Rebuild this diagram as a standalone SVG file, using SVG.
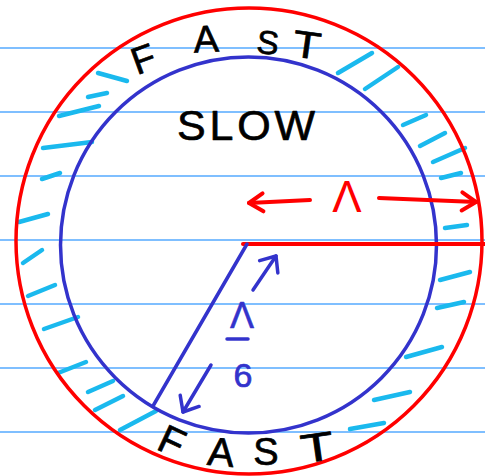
<svg xmlns="http://www.w3.org/2000/svg" width="485" height="476" viewBox="0 0 485 476">
<style>
.rule{stroke:#55aaff;stroke-width:1.5}
.hatch{fill:none;stroke:#1ab9ee;stroke-width:4.5;stroke-linecap:round}
.red{fill:none;stroke:#ff0000;stroke-width:4;stroke-linecap:round}
.blue{fill:none;stroke:#3333cc;stroke-width:3.5;stroke-linecap:round}
.lbl{font-family:"Liberation Sans","DejaVu Sans",sans-serif;text-anchor:middle;stroke-linejoin:round}
.blk{fill:#000;stroke:#000;stroke-width:0.7}
</style>
<defs>
<marker id="hr" markerUnits="userSpaceOnUse" viewBox="0 0 24 24" markerWidth="24" markerHeight="24" refX="20" refY="12" orient="auto" overflow="visible">
<path d="M6,3 L20,12 L6,21" fill="none" stroke="#ff0000" stroke-width="4" stroke-linecap="round" stroke-linejoin="round"/>
</marker>
<marker id="hb" markerUnits="userSpaceOnUse" viewBox="0 0 24 24" markerWidth="24" markerHeight="24" refX="20" refY="12" orient="auto" overflow="visible">
<path d="M7,1 L20,12 L7,23" fill="none" stroke="#3333cc" stroke-width="3.5" stroke-linecap="round" stroke-linejoin="round"/>
</marker>
</defs>
<rect width="485" height="476" fill="#ffffff"/>
<g id="paper-lines">
<line class="rule" x1="0" y1="48" x2="485" y2="48"/>
<line class="rule" x1="0" y1="112" x2="485" y2="112"/>
<line class="rule" x1="0" y1="176" x2="485" y2="176"/>
<line class="rule" x1="0" y1="240" x2="485" y2="240"/>
<line class="rule" x1="0" y1="304" x2="485" y2="304"/>
<line class="rule" x1="0" y1="368" x2="485" y2="368"/>
<line class="rule" x1="0" y1="432" x2="485" y2="432"/>
</g>
<g id="hatching">
<path class="hatch" d="M98,73L127,81M88,97L107,93M59,116L99,106M43,148L92,142M42,179L60,173M19,222L48,214M23,263L42,250M28,296L55,285M44,329L78,317M58,373L86,362M88,392L113,381M95,410L123,396M120,430L156,411M338,73L372,53M365,89L398,67M403,125L426,115M420,146L445,133M433,162L465,148M441,178L461,173M445,228L467,225M440,280L470,272M437,308L464,302M406,357L442,347M374,400L410,392M350,429L384,423"/>
</g>
<g id="outer-circle">
<circle cx="249" cy="241" r="233" fill="none" stroke="#ff0000" stroke-width="3.5"/>
</g>
<g id="inner-circle">
<circle cx="248.5" cy="245" r="188" fill="none" stroke="#3333cc" stroke-width="3.5"/>
</g>
<g id="connectors">
<line class="red" x1="243" y1="244" x2="485" y2="244" stroke-width="4.5"/>
<line class="blue" x1="247" y1="244" x2="153" y2="406"/>
<line class="red" x1="310" y1="200" x2="249" y2="203" marker-end="url(#hr)"/>
<line class="red" x1="379" y1="198" x2="476" y2="202" marker-end="url(#hr)"/>
<line class="blue" x1="253" y1="290" x2="276" y2="256" stroke-width="3" marker-end="url(#hb)"/>
<line class="blue" x1="211" y1="365" x2="183" y2="412" stroke-width="3" marker-end="url(#hb)"/>
</g>
<g id="label-fast-top" class="lbl blk">
<text font-size="38" transform="translate(143,58) rotate(-20)" y="14">F</text>
<text font-size="38" transform="translate(206,38) rotate(-3)" y="14">A</text>
<text font-size="33" transform="translate(268,42) rotate(6)" y="12">S</text>
<text font-size="38" transform="translate(307,44) rotate(8) scale(1.2,1)" y="14">T</text>
</g>
<g id="label-slow">
<text class="lbl blk" x="246" y="140" font-size="43" textLength="138" lengthAdjust="spacing">SLOW</text>
</g>
<g id="label-fast-bottom" class="lbl blk">
<text font-size="40" transform="translate(172,441) rotate(25)" y="14">F</text>
<text font-size="40" transform="translate(221,452) rotate(5)" y="14">A</text>
<text font-size="38" transform="translate(266,451)" y="14">S</text>
<text font-size="40" transform="translate(317,447) rotate(-8) scale(1.35,1)" y="14">T</text>
</g>
<g id="label-lambda">
<text class="lbl" x="347" y="212" font-size="44" fill="#ff0000">Λ</text>
</g>
<g id="label-lambda-6">
<text class="lbl" x="242" y="328" font-size="36" fill="#3333cc" stroke="#3333cc" stroke-width="0.6">Λ</text>
<line class="blue" x1="227" y1="339" x2="248" y2="339"/>
<text class="lbl" x="243" y="387" font-size="34" fill="#3333cc" stroke="#3333cc" stroke-width="0.7">6</text>
</g>
</svg>
